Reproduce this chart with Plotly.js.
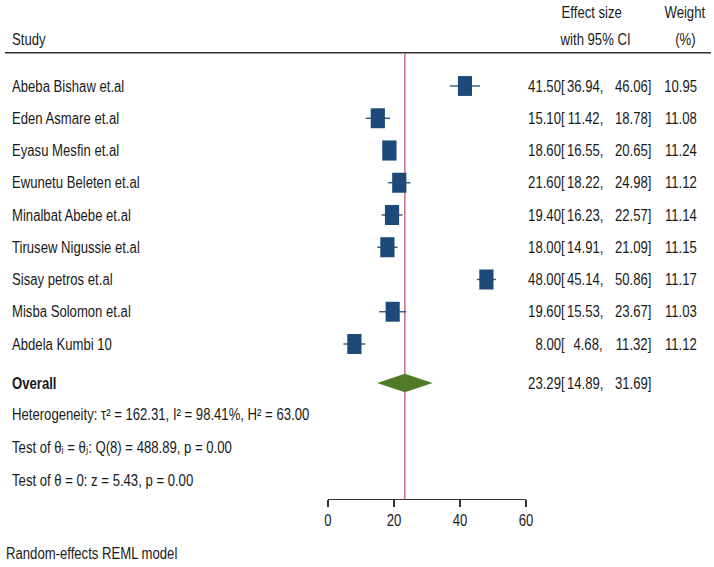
<!DOCTYPE html>
<html>
<head>
<meta charset="utf-8">
<script src="https://cdn.plot.ly/plotly-3.0.1.min.js"></script>
<style>html,body{margin:0;padding:0;background:#fff;}#chart{width:714px;height:567px;}</style>
</head>
<body>
<div id="chart"></div>
<script>
const studies = ["Abeba Bishaw et.al","Eden Asmare et.al","Eyasu Mesfin et.al","Ewunetu Beleten et.al","Minalbat Abebe et.al","Tirusew Nigussie et.al","Sisay petros et.al","Misba Solomon et.al","Abdela Kumbi 10"];
const es = [41.50, 15.10, 18.60, 21.60, 19.40, 18.00, 48.00, 19.60, 8.00];
const lo = [36.94, 11.42, 16.55, 18.22, 16.23, 14.91, 45.14, 15.53, 4.68];
const hi = [46.06, 18.78, 20.65, 24.98, 22.57, 21.09, 50.86, 23.67, 11.32];
const weights = [10.95, 11.08, 11.24, 11.12, 11.14, 11.15, 11.17, 11.03, 11.12];
const overall = {es: 23.29, lo: 14.89, hi: 31.69};
const statsLines = [
  "Heterogeneity: τ² = 162.31, I² = 98.41%, H² = 63.00",
  "Test of θᵢ = θⱼ: Q(8) = 488.89, p = 0.00",
  "Test of θ = 0: z = 5.43, p = 0.00"
];
const xTicks = [0, 20, 40, 60];
const modelNote = "Random-effects REML model";

const W = 714, H = 567;
const FONT = "'Liberation Sans', Arial, 'DejaVu Sans', sans-serif";
const NARROW = 0.82;
const TXT = "#1a1a1a";
const NAVY = "#1d4a78";
const GREEN = "#517a28";
const RED = "#c2466a";
const rowPx = 32.25, row0Px = 86;
const px2row = p => (p - row0Px) / rowPx;
const fs = 16;

const overallRow = px2row(383);
const statRows = [px2row(414), px2row(447), px2row(480)];
const headerLineRow = px2row(52.7);
const axisRow = px2row(499);

const xpx = p => p / W;
const ann = [];
function T(text, xp, row, anchor, extra) {
  ann.push(Object.assign({text: text, x: xpx(xp), xref: 'paper', y: row, yref: 'y', xanchor: anchor, yanchor: 'middle', showarrow: false, font: {family: FONT, size: fs, color: TXT}}, extra || {}));
}
T("Study", 10, px2row(39), 'left');
T("Effect size", 592, px2row(12), 'center');
T("with 95% CI", 595, px2row(39), 'center');
T("Weight", 685, px2row(12), 'center');
T("(%)", 685, px2row(39), 'center');
const f2 = v => v.toFixed(2);
studies.forEach((s, i) => {
  T(s, 10, i, 'left');
  T(f2(es[i]) + "[", 567, i, 'right');
  T(f2(lo[i]) + ",", 605, i, 'right');
  T(f2(hi[i]) + "]", 653, i, 'right');
  T(f2(weights[i]), 699, i, 'right');
});
T("<b>Overall</b>", 10, overallRow, 'left');
T(f2(overall.es) + "[", 567, overallRow, 'right');
T(f2(overall.lo) + ",", 605, overallRow, 'right');
T(f2(overall.hi) + "]", 653, overallRow, 'right');
statsLines.forEach((t, k) => T(t, 10, statRows[k], 'left'));
T(modelNote, 4, px2row(553), 'left');

const shapes = [];
shapes.push({type: 'line', xref: 'paper', yref: 'y', x0: xpx(5), x1: xpx(711), y0: headerLineRow, y1: headerLineRow, line: {color: '#333', width: 1.5}});
shapes.push({type: 'line', xref: 'x', yref: 'y', x0: overall.es, x1: overall.es, y0: headerLineRow + 0.03, y1: axisRow, line: {color: RED, width: 1.2}, layer: 'below'});
const meanW = weights.reduce((a, b) => a + b, 0) / weights.length;
studies.forEach((s, i) => {
  const k = Math.sqrt(weights[i] / meanW);
  const hw = 2.15 * k, hh = 0.31 * k;
  shapes.push({type: 'rect', xref: 'x', yref: 'y', x0: es[i] - hw, x1: es[i] + hw, y0: i - hh, y1: i + hh, fillcolor: NAVY, line: {width: 0}});
});
const dh = 0.29;
shapes.push({type: 'path', xref: 'x', yref: 'y',
  path: `M ${overall.lo} ${overallRow} L ${overall.es} ${overallRow - dh} L ${overall.hi} ${overallRow} L ${overall.es} ${overallRow + dh} Z`,
  fillcolor: GREEN, line: {width: 0}});

const ciTrace = {type: 'scatter', mode: 'lines', x: [], y: [], line: {color: NAVY, width: 1.3}, hoverinfo: 'skip', showlegend: false};
studies.forEach((s, i) => { ciTrace.x.push(lo[i], hi[i], null); ciTrace.y.push(i, i, null); });

const layout = {
  width: W, height: H,
  margin: {l: 0, r: 0, t: 0, b: 0},
  paper_bgcolor: '#fff', plot_bgcolor: 'rgba(0,0,0,0)',
  showlegend: false,
  xaxis: {
    domain: [328 / W, 526 / W], range: [0, 60], anchor: 'free', position: (H - 499) / H,
    tickvals: xTicks, ticktext: xTicks.map(String), ticks: 'outside', ticklen: 7, tickwidth: 1.2, tickcolor: '#333',
    showline: true, linecolor: '#333', linewidth: 1.2, showgrid: false, zeroline: false,
    tickfont: {family: FONT, size: fs, color: TXT}, fixedrange: true
  },
  yaxis: {domain: [0, 1], range: [px2row(H), px2row(0)], visible: false, fixedrange: true},
  annotations: ann,
  shapes: shapes
};

function narrow(t, mode) {
  const b = t.getBBox();
  const ax = mode === 'left' ? b.x : mode === 'right' ? b.x + b.width : b.x + b.width / 2;
  const prev = t.getAttribute('transform') || '';
  t.setAttribute('transform', `${prev} translate(${ax},0) scale(${NARROW},1) translate(${-ax},0)`);
}
Plotly.newPlot('chart', [ciTrace], layout, {displayModeBar: false, staticPlot: true}).then(gd => {
  gd.querySelectorAll('g.annotation').forEach(g => {
    const i = +g.getAttribute('data-index');
    const t = g.querySelector('text.annotation-text');
    if (t && ann[i]) narrow(t, ann[i].xanchor);
  });
  gd.querySelectorAll('g.xtick text').forEach(t => narrow(t, 'center'));
});
</script>
</body>
</html>
